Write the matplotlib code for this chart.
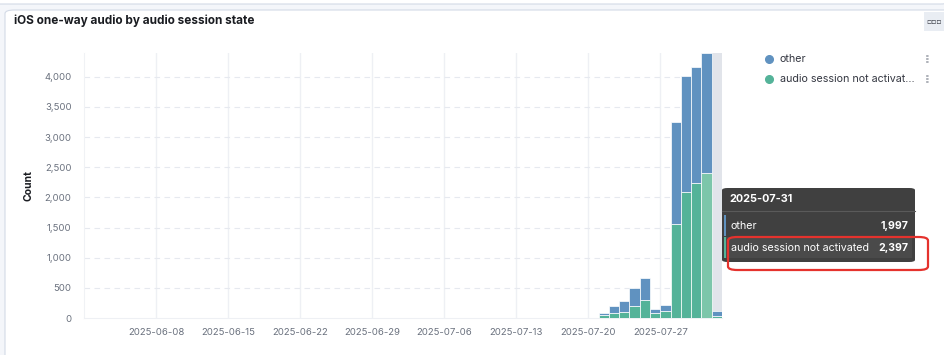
import matplotlib
matplotlib.use("Agg")
import matplotlib.pyplot as plt
import matplotlib.dates as mdates
from matplotlib.patches import FancyBboxPatch, Rectangle
from matplotlib.ticker import FuncFormatter
import numpy as np
import datetime as dt

plt.rcParams['font.family'] = ['Inter', 'DejaVu Sans']

# data
days = ['2025-07-21', '2025-07-22', '2025-07-23', '2025-07-24', '2025-07-25', '2025-07-26',
        '2025-07-27', '2025-07-28', '2025-07-29', '2025-07-30', '2025-07-31', '2025-08-01']
not_activated = [50, 83, 100, 203, 302, 83, 116, 1559, 2088, 2231, 2397, 38]
other = [33, 120, 175, 293, 369, 71, 104, 1697, 1917, 1939, 1997, 72]
tick_days = ['2025-06-08', '2025-06-15', '2025-06-22', '2025-06-29',
             '2025-07-06', '2025-07-13', '2025-07-20', '2025-07-27']
series_names = ['other', 'audio session not activated']
hover_day = '2025-07-31'

BLUE = '#6092c0'
GREEN = '#54b399'
GREEN_HI = '#7cc6aa'
GREY_TXT = '#69707d'

W, H = 945, 355
fig = plt.figure(figsize=(W / 100, H / 100), dpi=100)
fig.patch.set_facecolor('#f4f6fa')

def fx(px):
    return px / W

def fy(py):
    return 1 - py / H

# previous panel bottom + this panel
fig.patches.append(FancyBboxPatch((fx(-10), fy(4)), fx(960), fy(-20) - fy(4) + 0.2,
                                  boxstyle='round,pad=0,rounding_size=0.01',
                                  transform=fig.transFigure, fc='white', ec='#d3dae6', lw=0.8,
                                  zorder=-5))
fig.patches.append(FancyBboxPatch((fx(5), fy(380)), fx(950), fy(10) - fy(380),
                                  boxstyle='round,pad=0,rounding_size=0.01',
                                  transform=fig.transFigure, fc='white', ec='#d3dae6', lw=0.8,
                                  zorder=-5))
fig.patches.append(Rectangle((fx(924), fy(31)), fx(25), fy(12) - fy(31),
                             transform=fig.transFigure, fc='#e9edf3', ec='none'))
fig.text(fx(934), fy(21), '▫▫▫', fontsize=5.5, color='#343741', ha='center', va='center',
         family=['DejaVu Sans'])

fig.text(fx(14), fy(21), 'iOS one-way audio by audio session state', fontsize=8.5,
         fontweight='bold', color='#1a1c21', va='center')

ax = fig.add_axes([fx(84), fy(318), fx(722) - fx(84), fy(53) - fy(318)])
ax.set_facecolor('white')

x = [dt.datetime.strptime(d, '%Y-%m-%d') for d in days]
xn = mdates.date2num(x)
g = np.array(not_activated)
o = np.array(other)
gcols = [GREEN_HI if d == hover_day else GREEN for d in days]

ax.axvspan(mdates.date2num(dt.datetime(2025, 8, 1)), mdates.date2num(dt.datetime(2025, 8, 2)),
           color='#e1e4ea', zorder=1)
ax.bar(xn, g, width=1, align='edge', color=gcols, edgecolor='white', linewidth=0.5, zorder=3)
ax.bar(xn, o, width=1, align='edge', bottom=g, color=BLUE, edgecolor='white', linewidth=0.5,
       zorder=3)

ax.set_xlim(mdates.date2num(dt.datetime(2025, 6, 1)), mdates.date2num(dt.datetime(2025, 8, 2)))
ax.set_ylim(0, 4394)
ticks = [mdates.date2num(dt.datetime.strptime(d, '%Y-%m-%d')) for d in tick_days]
ax.set_xticks(ticks)
ax.set_xticklabels(tick_days)
ax.set_yticks(range(0, 4001, 500))
ax.yaxis.set_major_formatter(FuncFormatter(lambda v, p: f'{int(v):,}'))
ax.tick_params(length=0, labelsize=6.9, labelcolor=GREY_TXT)
ax.tick_params(axis='x', pad=7)
ax.tick_params(axis='y', pad=9)
for t in ticks:
    ax.axvline(t, color='#eef0f4', lw=1, zorder=0)
for v in range(500, 4001, 500):
    ax.axhline(v, color='#e6e9ef', lw=0.8, ls=(0, (5, 4)), zorder=0)
for s in ['top', 'right']:
    ax.spines[s].set_visible(False)
ax.spines['left'].set_color('#f0f2f5')
ax.spines['bottom'].set_color('#eef0f4')
ax.set_ylabel('Count', fontsize=7.5, fontweight='bold', color='#1a1c21', labelpad=8)

# legend
for i, (name, col) in enumerate(zip(series_names, [BLUE, GREEN])):
    yy = fy(59 + i * 20)
    fig.lines.append(plt.Line2D([fx(769)], [yy], transform=fig.transFigure, marker='o',
                                ms=5.5, color=col, ls='none'))
    label = name if len(name) < 25 else name[:25] + '...'
    fig.text(fx(780), yy, label, fontsize=7.7, color='#343741', va='center')
    fig.text(fx(927), yy, '▫\n▫\n▫', fontsize=2.8, color='#69707d', va='center', ha='center',
             linespacing=0.8, family=['DejaVu Sans'])

# tooltip
fig.patches.append(FancyBboxPatch((fx(722), fy(262)), fx(193), fy(188) - fy(262),
                                  boxstyle='round,pad=0,rounding_size=0.006',
                                  transform=fig.transFigure, fc='#404040', ec='none', zorder=5))
fig.text(fx(729), fy(199), hover_day, fontsize=7.8, fontweight='bold', color='white',
         va='center', zorder=6)
fig.lines.append(plt.Line2D([fx(722), fx(915)], [fy(211), fy(211)], transform=fig.transFigure,
                            color='#5a5a5a', lw=0.8, zorder=6))
fig.patches.append(Rectangle((fx(724), fy(258)), fx(188), fy(237) - fy(258),
                             transform=fig.transFigure, fc='#4a4a4a', ec='none', zorder=5))
idx = days.index(hover_day)
for i, (name, col, val) in enumerate(zip(series_names, [BLUE, GREEN],
                                         [other[idx], not_activated[idx]])):
    top = 215 + i * 22
    fig.patches.append(Rectangle((fx(724), fy(top + 21)), fx(2.5), fy(top) - fy(top + 21),
                                 transform=fig.transFigure, fc=col, ec='none', zorder=6))
    fig.text(fx(731), fy(top + 11), name, fontsize=7.7, color='white', va='center', zorder=7)
    fig.text(fx(908), fy(top + 11), f'{val:,}', fontsize=7.6, fontweight='bold', color='white',
             va='center', ha='right', zorder=7)

fig.patches.append(FancyBboxPatch((fx(728), fy(270)), fx(200), fy(237) - fy(270),
                                  boxstyle='round,pad=0,rounding_size=0.01',
                                  transform=fig.transFigure, fc='none', ec='#e5322d', lw=1.6,
                                  zorder=8))

fig.savefig('out.png', dpi=100, facecolor=fig.get_facecolor())
